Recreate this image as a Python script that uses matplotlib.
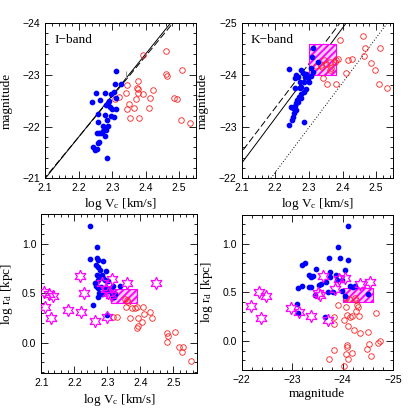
import numpy as np
import matplotlib
matplotlib.use("Agg")
import matplotlib.pyplot as plt
from matplotlib.patches import Rectangle
from matplotlib.ticker import MultipleLocator

plt.rcParams['font.family'] = ['Liberation Sans', 'DejaVu Sans']
plt.rcParams['mathtext.fontset'] = 'custom'
plt.rcParams['mathtext.rm'] = 'Liberation Serif'
plt.rcParams['mathtext.it'] = 'Liberation Serif:italic'
plt.rcParams['hatch.linewidth'] = 1.4
plt.rcParams['axes.unicode_minus'] = True

#%% data
# I-band: log Vc vs magnitude
iband_blue_vc = [2.312, 2.309, 2.327, 2.279, 2.241, 2.265, 2.295, 2.305, 2.310, 2.287, 2.282, 2.294,
                 2.300, 2.312, 2.259, 2.280, 2.257, 2.297, 2.304, 2.285, 2.272, 2.287, 2.282, 2.274,
                 2.256, 2.262, 2.268, 2.280, 2.262, 2.257, 2.243, 2.250, 2.256, 2.285, 2.251, 2.290]
iband_blue_mag = [-23.08, -22.82, -22.82, -22.64, -22.48, -22.51, -22.62, -22.67, -22.55, -22.46, -22.41, -22.38,
                  -22.33, -22.33, -22.24, -22.22, -22.09, -22.20, -22.18, -22.12, -22.01, -22.02, -21.93, -21.91,
                  -21.88, -21.88, -21.87, -21.82, -21.71, -21.69, -21.60, -21.55, -21.56, -21.40, -22.65, -22.50]
iband_red_vc = [2.393, 2.460, 2.460, 2.463, 2.510, 2.345, 2.376, 2.373, 2.378, 2.342, 2.378, 2.393, 2.421,
                2.320, 2.307, 2.413, 2.371, 2.350, 2.345, 2.366, 2.411, 2.485, 2.495, 2.354, 2.381, 2.506, 2.533]
iband_red_mag = [-23.38, -23.46, -23.01, -22.97, -23.09, -22.80, -22.88, -22.75, -22.73, -22.65, -22.65, -22.62,
                 -22.70, -22.57, -22.54, -22.56, -22.53, -22.43, -22.34, -22.35, -22.35, -22.55, -22.53, -22.17,
                 -22.17, -22.12, -22.07]
iband_err_vc, iband_err_mag, iband_err = [2.342], [-23.0], [0.07]

# K-band: log Vc vs magnitude
kband_blue_vc = [2.313, 2.308, 2.328, 2.306, 2.313, 2.241, 2.278, 2.283, 2.293, 2.263, 2.268, 2.258, 2.288,
                 2.298, 2.300, 2.273, 2.286, 2.258, 2.278, 2.273, 2.293, 2.285, 2.278, 2.270, 2.276, 2.266,
                 2.268, 2.263, 2.258, 2.248, 2.253, 2.263, 2.256, 2.253, 2.250, 2.286, 2.241, 2.306]
kband_blue_mag = [-24.51, -24.34, -24.25, -24.13, -24.06, -24.11, -24.09, -24.04, -24.02, -24.00, -23.96, -23.93,
                  -23.96, -23.94, -23.86, -23.85, -23.86, -23.75, -23.77, -23.74, -23.72, -23.67, -23.62, -23.57,
                  -23.55, -23.51, -23.48, -23.45, -23.40, -23.38, -23.35, -23.32, -23.27, -23.19, -23.12, -23.08,
                  -23.04, -23.97]
kband_red_vc = [2.394, 2.461, 2.468, 2.512, 2.387, 2.382, 2.377, 2.417, 2.427, 2.464, 2.486, 2.496, 2.409,
                2.362, 2.367, 2.362, 2.336, 2.345, 2.340, 2.321, 2.342, 2.355, 2.380, 2.507, 2.532, 2.352]
kband_red_mag = [-24.67, -24.74, -24.51, -24.52, -24.31, -24.28, -24.25, -24.28, -24.31, -24.36, -24.23, -24.10,
                 -24.04, -24.25, -24.12, -24.09, -24.18, -24.28, -24.15, -24.17, -23.94, -23.83, -23.83, -23.83,
                 -23.75, -24.20]

# log Vc vs log rd
rd_blue_vc = [2.248, 2.268, 2.248, 2.268, 2.273, 2.288, 2.265, 2.271, 2.278, 2.295, 2.268, 2.275, 2.283, 2.288,
              2.273, 2.293, 2.303, 2.318, 2.338, 2.265, 2.273, 2.281, 2.296, 2.303, 2.311, 2.275, 2.285, 2.293,
              2.313, 2.323, 2.321, 2.271, 2.258, 2.298, 2.306, 2.262]
rd_blue_lr = [1.18, 0.97, 0.85, 0.86, 0.84, 0.83, 0.79, 0.77, 0.74, 0.73, 0.69, 0.68, 0.69, 0.66,
              0.64, 0.63, 0.62, 0.57, 0.57, 0.57, 0.55, 0.56, 0.55, 0.53, 0.55, 0.50, 0.49, 0.51,
              0.48, 0.49, 0.46, 0.46, 0.38, 0.28, 0.52, 0.60]
rd_star_vc = [2.109, 2.124, 2.134, 2.111, 2.128, 2.182, 2.217, 2.230, 2.220, 2.262, 2.298, 2.313, 2.359,
              2.448, 2.295, 2.303, 2.311, 2.283]
rd_star_lr = [0.51, 0.49, 0.476, 0.365, 0.247, 0.331, 0.68, 0.50, 0.31, 0.22, 0.26, 0.65, 0.60,
              0.60, 0.54, 0.50, 0.48, 0.60]
rd_red_vc = [2.354, 2.359, 2.364, 2.357, 2.374, 2.384, 2.391, 2.407, 2.318, 2.330, 2.369, 2.392, 2.411,
             2.404, 2.437, 2.431, 2.394, 2.389, 2.480, 2.483, 2.480, 2.505, 2.516, 2.530, 2.528, 2.554]
rd_red_lr = [0.443, 0.432, 0.409, 0.365, 0.348, 0.348, 0.361, 0.365, 0.264, 0.257, 0.247, 0.247, 0.287,
             0.213, 0.253, 0.314, 0.172, 0.145, 0.101, 0.068, 0.003, 0.105, -0.041, -0.041, -0.091, -0.182]

# magnitude vs log rd
md_blue_mag = [-24.10, -23.91, -23.73, -23.96, -24.10, -23.25, -23.20, -23.48, -23.76, -24.04, -23.34, -23.37,
               -23.42, -23.88, -23.75, -23.89, -23.98, -23.58, -23.53, -23.68, -23.20, -23.34, -23.37, -24.14,
               -24.21, -24.24, -23.71, -23.81, -23.98, -24.50, -23.12, -23.09, -23.11, -23.65, -24.04, -23.45]
md_blue_lr = [1.18, 0.97, 0.85, 0.85, 0.83, 0.80, 0.78, 0.74, 0.71, 0.73, 0.68, 0.66,
              0.67, 0.68, 0.66, 0.63, 0.63, 0.59, 0.58, 0.61, 0.57, 0.56, 0.56, 0.57,
              0.56, 0.57, 0.50, 0.50, 0.51, 0.48, 0.54, 0.38, 0.285, 0.25, 0.46, 0.47]
md_star_mag = [-22.18, -22.34, -22.49, -22.38, -22.98, -23.14, -23.38, -23.56, -23.62, -23.71, -23.85, -23.94,
               -24.04, -24.34, -24.54, -23.52]
md_star_lr = [0.364, 0.502, 0.467, 0.241, 0.344, 0.302, 0.258, 0.474, 0.67, 0.22, 0.53, 0.64,
              0.65, 0.59, 0.61, 0.49]
md_red_mag = [-24.06, -24.13, -24.24, -24.27, -23.92, -24.06, -24.29, -24.31, -24.27, -23.83, -24.08, -24.14,
              -24.18, -24.33, -24.67, -23.83, -24.02, -24.10, -24.23, -24.34, -24.50, -24.74, -24.70, -24.52,
              -24.08, -24.09, -24.49, -24.18, -24.06, -24.11, -23.83, -24.57, -23.73, -24.02]
md_red_lr = [0.44, 0.43, 0.44, 0.42, 0.37, 0.35, 0.37, 0.35, 0.31, 0.25, 0.27, 0.25,
             0.26, 0.26, 0.29, 0.17, 0.22, 0.15, 0.11, 0.08, 0.09, 0.00, -0.02, -0.03,
             -0.04, -0.06, -0.08, -0.12, -0.13, -0.18, -0.09, -0.15, -0.19, -0.26]

# relations: (intercept at log Vc = 2.1, slope)
iband_solid = (-21.0, -8.0)
iband_dashed = (-21.02, -7.8)
kband_solid = (-22.29, -8.7)
kband_dashed = (-22.51, -8.5)
kband_dotted = (-21.25, -8.65)

# hatched boxes: (x0, x1, y0, y1)
box_k = (2.30, 2.38, -24.0, -24.6)
box_rd = (2.31, 2.39, 0.40, 0.545)
box_md = (-24.0, -24.6, 0.40, 0.545)

#%% helpers
serif = {'family': 'Liberation Serif', 'size': 9.5}

def style_axes(ax, xmaj, xmin, ymaj, ymin):
    ax.xaxis.set_major_locator(MultipleLocator(xmaj))
    ax.xaxis.set_minor_locator(MultipleLocator(xmin))
    ax.yaxis.set_major_locator(MultipleLocator(ymaj))
    ax.yaxis.set_minor_locator(MultipleLocator(ymin))
    ax.tick_params(which='both', direction='in', top=True, right=True, labelsize=7.5, width=0.6)
    ax.tick_params(which='major', length=5)
    ax.tick_params(which='minor', length=2.5)
    for s in ax.spines.values():
        s.set_linewidth(0.7)

def blue(ax, x, y):
    ax.plot(x, y, 'o', ms=3.1, color='#0000ff', mec='#0000ff', ls='none', zorder=4)

def red(ax, x, y):
    ax.plot(x, y, 'o', ms=4.0, mfc='none', mec='#ff2020', mew=0.6, ls='none', zorder=3)

def stars(ax, x, y):
    ax.plot(x, y, marker=(6, 1, 0), ms=9, mfc='none', mec='#ff00ff', mew=0.9, ls='none', zorder=5)

def hatched(ax, box):
    x0, x1, y0, y1 = box
    ax.add_patch(Rectangle((x0, y0), x1 - x0, y1 - y0, facecolor='#ffd0ff', edgecolor='#ff00ff',
                           hatch='/////', lw=0.8, zorder=2))

def relation(ax, rel, ls, xs):
    a, b = rel
    ax.plot(xs, a + b * (xs - 2.1), color='k', ls=ls, lw=0.7, zorder=1)

fig = plt.figure(figsize=(4.15, 4.15), dpi=100)
xs = np.linspace(2.0, 2.7, 50)

#%% I-band
ax1 = fig.add_axes([0.109, 0.570, 0.363, 0.375])
relation(ax1, iband_solid, '-', xs)
relation(ax1, iband_dashed, (0, (7, 3)), xs)
ax1.errorbar(iband_err_vc, iband_err_mag, yerr=iband_err, fmt='none', ecolor='0.6', elinewidth=0.8)
red(ax1, iband_red_vc, iband_red_mag)
blue(ax1, iband_blue_vc, iband_blue_mag)
ax1.set_xlim(2.1, 2.55)
ax1.set_ylim(-21, -24)
style_axes(ax1, 0.1, 0.02, 1, 0.2)
ax1.set_xlabel(r'log V$_{\rm c}$ [km/s]', fontdict=serif, labelpad=2)
ax1.set_ylabel('magnitude', fontdict=serif, labelpad=7)
ax1.text(0.06, 0.93, 'I\u2212band', transform=ax1.transAxes, fontdict=serif, va='top')

#%% K-band
ax2 = fig.add_axes([0.582, 0.570, 0.365, 0.375])
relation(ax2, kband_solid, '-', xs)
relation(ax2, kband_dashed, (0, (7, 3)), xs)
relation(ax2, kband_dotted, (0, (1, 2)), xs)
hatched(ax2, box_k)
red(ax2, kband_red_vc, kband_red_mag)
blue(ax2, kband_blue_vc, kband_blue_mag)
ax2.set_xlim(2.1, 2.55)
ax2.set_ylim(-22, -25)
style_axes(ax2, 0.1, 0.02, 1, 0.2)
ax2.set_xlabel(r'log V$_{\rm c}$ [km/s]', fontdict=serif, labelpad=2)
ax2.set_ylabel('magnitude', fontdict=serif, labelpad=7)
ax2.text(0.06, 0.93, 'K\u2212band', transform=ax2.transAxes, fontdict=serif, va='top')

#%% log Vc vs log rd
ax3 = fig.add_axes([0.0995, 0.1005, 0.376, 0.383])
hatched(ax3, box_rd)
red(ax3, rd_red_vc, rd_red_lr)
blue(ax3, rd_blue_vc, rd_blue_lr)
stars(ax3, rd_star_vc, rd_star_lr)
ax3.set_xlim(2.1, 2.573)
ax3.set_ylim(-0.31, 1.3)
style_axes(ax3, 0.1, 0.02, 0.5, 0.1)
ax3.set_xlabel(r'log V$_{\rm c}$ [km/s]', fontdict=serif, labelpad=3)
ax3.set_ylabel(r'log r$_{\rm d}$ [kpc]', fontdict=serif, labelpad=5)

#%% magnitude vs log rd
ax4 = fig.add_axes([0.582, 0.108, 0.365, 0.375])
hatched(ax4, box_md)
red(ax4, md_red_mag, md_red_lr)
blue(ax4, md_blue_mag, md_blue_lr)
stars(ax4, md_star_mag, md_star_lr)
ax4.set_xlim(-22, -25)
ax4.set_ylim(-0.3, 1.3)
style_axes(ax4, 1, 0.2, 0.5, 0.1)
ax4.set_xlabel('magnitude', fontdict=serif, labelpad=2)
ax4.set_ylabel(r'log r$_{\rm d}$ [kpc]', fontdict=serif, labelpad=5)

fig.savefig('out.png', dpi=100)
